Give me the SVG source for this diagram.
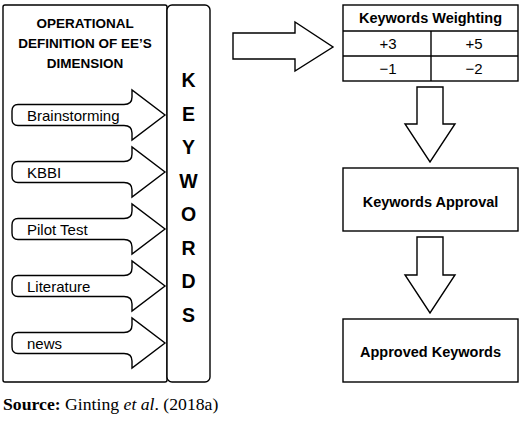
<svg xmlns="http://www.w3.org/2000/svg" width="520" height="421" viewBox="0 0 520 421">
<style>
.ln{fill:#fff;stroke:#000;stroke-width:1.4;stroke-linejoin:miter}
.hd{font-family:"Liberation Sans",Arial,sans-serif;font-weight:bold;font-size:13.5px;text-anchor:middle}
.kw{font-family:"Liberation Sans",Arial,sans-serif;font-weight:bold;font-size:19.5px;text-anchor:middle}
.lb{font-family:"Liberation Sans",Arial,sans-serif;font-size:15px}
.bt{font-family:"Liberation Sans",Arial,sans-serif;font-weight:bold;font-size:14.5px;text-anchor:middle}
.nm{font-family:"Liberation Sans",Arial,sans-serif;font-size:15px;text-anchor:middle}
.src{font-family:"Liberation Serif","Times New Roman",serif;font-size:17.7px}
</style>
<defs>
<path id="ar" d="M18,-10.5 L124,-10.5 Q132,-10.5 132,-18 L132,-25 L165,0 L132,25 L132,18 Q132,10.5 124,10.5 L18,10.5 Q12,10.5 12,4 L12,-4 Q12,-10.5 18,-10.5 Z"/>
</defs>
<g id="definition">
<rect class="ln" x="3" y="5" width="164" height="377" rx="2"/>
<text class="hd" x="85" y="28">OPERATIONAL</text>
<text class="hd" x="85" y="48">DEFINITION OF EE’S</text>
<text class="hd" x="85" y="68">DIMENSION</text>
</g>
<g id="keywords">
<rect class="ln" x="167" y="5" width="43" height="377" rx="5"/>
<text class="kw" x="188.5" y="87">K</text>
<text class="kw" x="188.5" y="120.5">E</text>
<text class="kw" x="188.5" y="154">Y</text>
<text class="kw" x="188.5" y="187.5">W</text>
<text class="kw" x="188.5" y="221">O</text>
<text class="kw" x="188.5" y="254.5">R</text>
<text class="kw" x="188.5" y="288">D</text>
<text class="kw" x="188.5" y="321.5">S</text>
</g>
<g id="brainstorming">
<use href="#ar" class="ln" transform="translate(0,115)"/>
<text class="lb" x="27" y="120.5">Brainstorming</text>
</g>
<g id="kbbi">
<use href="#ar" class="ln" transform="translate(0,172)"/>
<text class="lb" x="27" y="177.5">KBBI</text>
</g>
<g id="pilot-test">
<use href="#ar" class="ln" transform="translate(0,229)"/>
<text class="lb" x="27" y="234.5">Pilot Test</text>
</g>
<g id="literature">
<use href="#ar" class="ln" transform="translate(0,286)"/>
<text class="lb" x="27" y="291.5">Literature</text>
</g>
<g id="news">
<use href="#ar" class="ln" transform="translate(0,343)"/>
<text class="lb" x="27" y="348.5">news</text>
</g>
<g id="connectors">
<path class="ln" d="M233,33 L295,33 L295,22 L333,47 L295,71 L295,59 L233,59 Z"/>
<path class="ln" d="M417,87 L443,87 L443,124 L455,124 L430,162 L405,124 L417,124 Z"/>
<path class="ln" d="M417,237 L443,237 L443,275 L455,275 L430,313 L405,275 L417,275 Z"/>
</g>
<g id="weighting">
<rect class="ln" x="343" y="5" width="175" height="76"/>
<line class="ln" x1="343" y1="31" x2="518" y2="31"/>
<line class="ln" x1="343" y1="56" x2="518" y2="56"/>
<line class="ln" x1="431" y1="31" x2="431" y2="81"/>
<text class="bt" x="430.5" y="23">Keywords Weighting</text>
<text class="nm" x="388" y="49">+3</text>
<text class="nm" x="474" y="49">+5</text>
<text class="nm" x="388" y="74">−1</text>
<text class="nm" x="474" y="74">−2</text>
</g>
<g id="approval">
<rect class="ln" x="343" y="168" width="175" height="63"/>
<text class="bt" x="430.5" y="207">Keywords Approval</text>
</g>
<g id="approved">
<rect class="ln" x="343" y="319" width="175" height="63"/>
<text class="bt" x="430.5" y="357">Approved Keywords</text>
</g>
<text class="src" x="3" y="410"><tspan font-weight="bold">Source:</tspan> Ginting <tspan font-style="italic">et al</tspan>. (2018a)</text>
</svg>
